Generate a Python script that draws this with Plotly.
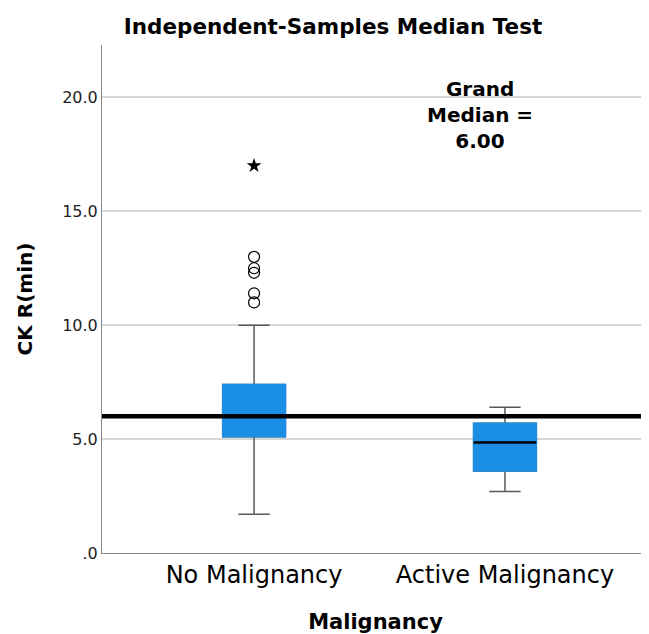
import plotly.graph_objects as go

categories = ["No Malignancy", "Active Malignancy"]
q1 = [5.1, 3.6]
median = [6.0, 4.85]
q3 = [7.4, 5.7]
lower_whisker = [1.7, 2.7]
upper_whisker = [10.0, 6.4]
outliers_no = [13.0, 12.5, 12.3, 11.4, 11.0]
extremes_no = [17.0]
grand_median = 6.0
y_ticks = [0, 5, 10, 15, 20]
y_ticklabels = [".0", "5.0", "10.0", "15.0", "20.0"]

pos = list(range(len(categories)))
blue = "#1b8fe6"
font = "DejaVu Sans"

W, H = 641, 626
ML, MT, MR, MB = 94, 37, 0, 81

fig = go.Figure()
fig.add_trace(go.Box(x=pos, q1=q1, median=median, q3=q3,
                     lowerfence=lower_whisker, upperfence=upper_whisker,
                     fillcolor=blue, line=dict(color="#5a5a5a", width=1.5),
                     width=0.25, whiskerwidth=0.5, boxpoints=False,
                     hoverinfo="skip", showlegend=False))
fig.add_trace(go.Box(x=pos, q1=q1, median=median, q3=q3,
                     lowerfence=q1, upperfence=q3,
                     fillcolor=blue, line=dict(color=blue, width=1.5),
                     width=0.25, whiskerwidth=0, boxpoints=False,
                     hoverinfo="skip", showlegend=False))
fig.add_trace(go.Box(x=pos, q1=median, median=median, q3=median,
                     lowerfence=median, upperfence=median,
                     fillcolor="rgba(0,0,0,0)", line=dict(color="black", width=2.5),
                     width=0.25, whiskerwidth=0, boxpoints=False,
                     hoverinfo="skip", showlegend=False))
fig.add_trace(go.Scatter(x=[pos[0]] * len(outliers_no), y=outliers_no, mode="markers",
                         marker=dict(symbol="circle-open", size=11, color="black",
                                     line=dict(width=1.2)),
                         showlegend=False, hoverinfo="y"))
fig.add_trace(go.Scatter(x=[pos[0]] * len(extremes_no), y=extremes_no, mode="markers",
                         marker=dict(symbol="star", size=11, color="black"),
                         showlegend=False, hoverinfo="y"))

fig.add_shape(type="line", xref="paper", x0=0, x1=1, yref="y", y0=grand_median, y1=grand_median,
              line=dict(color="black", width=4.5), layer="above")

fig.add_annotation(text="<b>Grand<br>Median =<br>6.00</b>", xref="x", yref="y",
                   x=0.9, y=21.0, yanchor="top", showarrow=False, align="center",
                   font=dict(family=font, size=20, color="black"))

fig.update_layout(
    width=W, height=H,
    margin=dict(l=ML, r=MR, t=MT, b=MB),
    paper_bgcolor="white", plot_bgcolor="white",
    font=dict(family=font, color="black"),
    title=dict(text="<b>Independent-Samples Median Test</b>", x=(333 - 8) / W, xanchor="center",
               y=1 - (26 - 8) / H, yanchor="middle", font=dict(family=font, size=21.5, color="black")),
)
fig.update_xaxes(range=[-0.606, 1.574], tickvals=pos, ticktext=categories,
                 showgrid=False, zeroline=False, showline=True, linecolor="#888888",
                 linewidth=1, ticks="", tickfont=dict(size=24, color="black"),
                 title=dict(text="<b>Malignancy</b>", font=dict(size=21), standoff=26))
fig.update_yaxes(range=[0, 22.3], tickvals=y_ticks, ticktext=y_ticklabels,
                 showgrid=True, gridcolor="#d6d6d6", gridwidth=1.8, zeroline=False,
                 showline=True, linecolor="#888888", linewidth=1, ticks="",
                 tickfont=dict(size=16, color="#222222"),
                 title=dict(text="<b>CK R(min)</b>", font=dict(size=20), standoff=24))

fig.write_html("out.html")
